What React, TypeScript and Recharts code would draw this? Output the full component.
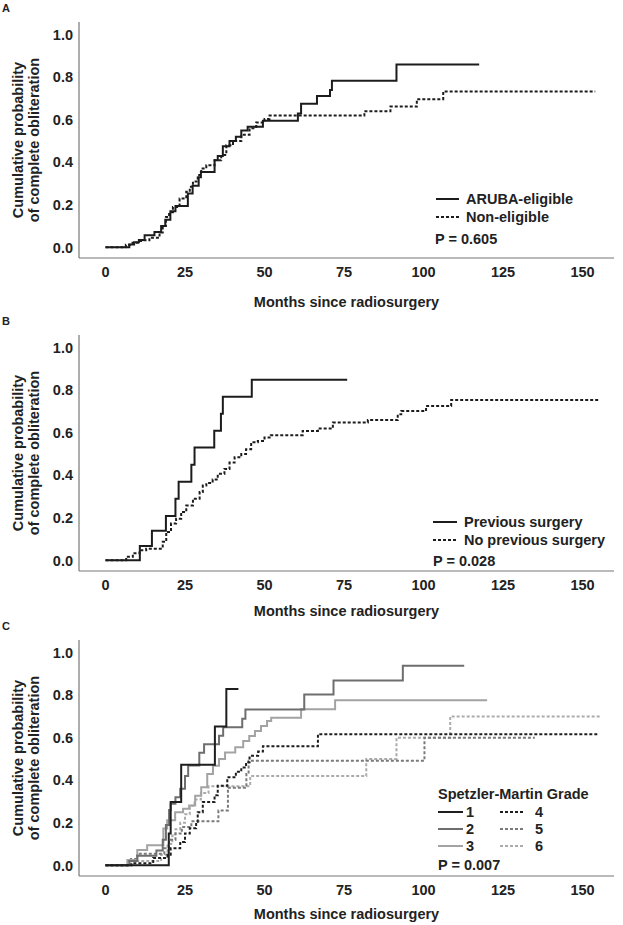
import React from 'react';
import { LineChart, Line, XAxis, YAxis, Legend } from 'recharts';

type Pt = [number, number];

const xTicks = [0, 25, 50, 75, 100, 125, 150];
const yTicks = [0, 0.2, 0.4, 0.6, 0.8, 1.0];

// Panel A
const arubaEligible: Pt[] = [
  [0, 0], [7.5, 0.013], [9, 0.024], [10.5, 0.035], [12.3, 0.057], [15.4, 0.072], [17.5, 0.1],
  [18.8, 0.13], [20.4, 0.17], [22, 0.195], [25.9, 0.253], [27.4, 0.29], [29.3, 0.33], [30, 0.355],
  [34.3, 0.41], [35.3, 0.43], [36.9, 0.476], [39, 0.5], [41, 0.52], [42.7, 0.55], [44.7, 0.567],
  [49.5, 0.596], [60.5, 0.63], [61.5, 0.675], [66.5, 0.712], [70.6, 0.74], [71.2, 0.784],
  [91.5, 0.86], [117.5, 0.86],
];
const nonEligible: Pt[] = [
  [0, 0], [6.4, 0.012], [8.5, 0.022], [10.5, 0.03], [11.7, 0.033], [13.8, 0.045], [17, 0.07],
  [18, 0.1], [19, 0.143], [20, 0.165], [21.2, 0.19], [23.3, 0.23], [25.4, 0.262], [26.5, 0.285],
  [27.5, 0.31], [29, 0.34], [30.1, 0.371], [31.7, 0.386], [34.3, 0.41], [36.4, 0.434], [38, 0.48],
  [40.1, 0.5], [42.7, 0.53], [45.3, 0.56], [47.4, 0.587], [50, 0.604], [51.6, 0.62], [81.4, 0.64],
  [89.6, 0.662], [97.9, 0.697], [106.2, 0.733], [154, 0.733],
];

// Panel B
const previousSurgery: Pt[] = [
  [0, 0], [10.8, 0.067], [14.6, 0.139], [19, 0.209], [22, 0.29], [23, 0.37], [27, 0.45],
  [28, 0.531], [34.2, 0.61], [36.3, 0.69], [36.9, 0.77], [46, 0.849], [76, 0.849],
];
const noPreviousSurgery: Pt[] = [
  [0, 0], [6.5, 0.017], [8.6, 0.033], [10.7, 0.048], [12.8, 0.055], [18, 0.087], [19.1, 0.134],
  [20.6, 0.173], [22.2, 0.196], [23.8, 0.228], [25.4, 0.258], [27.5, 0.29], [29.6, 0.321],
  [30.6, 0.352], [31.7, 0.364], [33.7, 0.38], [35.3, 0.407], [37.4, 0.43], [39, 0.46],
  [40.6, 0.485], [42.7, 0.5], [44.2, 0.523], [45.8, 0.555], [47.9, 0.562], [50, 0.578],
  [52, 0.589], [62, 0.609], [66.8, 0.62], [71.5, 0.648], [82.5, 0.66], [91.9, 0.687],
  [93, 0.702], [100.8, 0.726], [108.7, 0.754], [155.5, 0.754],
];

// Panel C, Spetzler-Martin grades
const grade1: Pt[] = [
  [0, 0], [19.9, 0.15], [20.5, 0.298], [23.8, 0.473], [34.4, 0.653], [38, 0.83], [41.8, 0.83],
];
const grade2: Pt[] = [
  [0, 0], [7.5, 0.02], [10, 0.045], [16, 0.07], [18, 0.12], [19, 0.19], [20, 0.26], [20.5, 0.29],
  [22, 0.32], [23.5, 0.36], [25, 0.42], [26, 0.47], [29.5, 0.53], [31, 0.57], [35.7, 0.61],
  [37, 0.65], [43, 0.69], [44, 0.733], [62.5, 0.804], [71.7, 0.869], [93.5, 0.939], [112.8, 0.939],
];
const grade3: Pt[] = [
  [0, 0], [6.9, 0.025], [10, 0.072], [13.1, 0.095], [18.2, 0.173], [19.4, 0.212], [21.9, 0.25],
  [24.4, 0.266], [26.3, 0.282], [28.2, 0.328], [30.1, 0.368], [32, 0.43], [33.8, 0.469],
  [35.7, 0.5], [37.6, 0.531], [40.8, 0.555], [43.3, 0.585], [45.2, 0.609], [47, 0.632],
  [48.9, 0.656], [50.8, 0.679], [52.1, 0.694], [61.5, 0.734], [72.2, 0.777], [120, 0.777],
];
const grade4: Pt[] = [
  [0, 0], [8.2, 0.01], [15, 0.035], [19.5, 0.05], [20.5, 0.08], [23.5, 0.11], [25, 0.15],
  [26.5, 0.175], [28.5, 0.205], [29, 0.25], [30.6, 0.298], [34.3, 0.33], [35.3, 0.375],
  [38.3, 0.414], [41, 0.44], [42.7, 0.46], [44.2, 0.485], [45.3, 0.515], [48, 0.535],
  [49.5, 0.56], [66.8, 0.617], [155, 0.617],
];
const grade5: Pt[] = [
  [0, 0], [8, 0.03], [10, 0.055], [18.5, 0.08], [20, 0.12], [22, 0.15], [24, 0.18], [27, 0.207],
  [35.5, 0.258], [38.5, 0.365], [44.3, 0.43], [45, 0.492], [100.3, 0.6], [135, 0.6],
];
const grade6: Pt[] = [
  [0, 0], [7, 0.02], [17.5, 0.05], [19.5, 0.1], [21, 0.14], [22, 0.17], [23.5, 0.2], [25, 0.24],
  [26.5, 0.28], [28, 0.31], [30, 0.34], [32.4, 0.372], [45.5, 0.42], [82, 0.5], [91.5, 0.6],
  [108.4, 0.7], [156, 0.7],
];

const FONT = '"Liberation Sans", Arial, Helvetica, sans-serif';
const INK = '#222';
const FS = 14.5;

interface Series {
  name: string;
  pts: Pt[];
  color: string;
  dashed?: boolean;
}

const toRows = (pts: Pt[]) => pts.map(([t, p]) => ({ t, p }));

const Sample = ({ color, dashed, w = 24 }: { color: string; dashed?: boolean; w?: number }) => (
  <svg width={w} height={4} style={{ display: 'block' }}>
    <line x1={0} y1={2} x2={w} y2={2} stroke={color} strokeWidth={2} strokeDasharray={dashed ? '3 2' : undefined} />
  </svg>
);

const Txt = ({ x, y, children }: { x: number; y: number; children: React.ReactNode }) => (
  <div style={{ position: 'absolute', left: x, top: y - 9, lineHeight: '18px', whiteSpace: 'nowrap' }}>{children}</div>
);

const Swatch = ({ x, y, s, w }: { x: number; y: number; s: Series; w?: number }) => (
  <div style={{ position: 'absolute', left: x, top: y - 2 }}>
    <Sample color={s.color} dashed={s.dashed} w={w} />
  </div>
);

const yTitle = () => (
  <g fill={INK} fontFamily={FONT} fontSize={FS} fontWeight="bold">
    <text x={18} y={140} transform="rotate(-90 18 140)" textAnchor="middle" dominantBaseline="central">
      Cumulative probability
    </text>
    <text x={34} y={140} transform="rotate(-90 34 140)" textAnchor="middle" dominantBaseline="central">
      of complete obliteration
    </text>
  </g>
);

interface PanelProps {
  top: number;
  letter: string;
  series: Series[];
  titleOffset: number;
  legend: () => React.ReactNode;
}

const Panel = ({ top, letter, series, titleOffset, legend }: PanelProps) => (
  <div style={{ position: 'absolute', left: 0, top, width: 623, height: 310 }}>
    <LineChart width={623} height={310} margin={{ top: 22, right: 9, bottom: 0, left: 0 }}>
      <XAxis
        type="number"
        dataKey="t"
        domain={[-8.33, 159.9]}
        ticks={xTicks}
        allowDataOverflow
        height={52}
        tickLine={false}
        tickMargin={3}
        axisLine={{ stroke: '#777', strokeWidth: 1.2 }}
        tick={{ fill: INK, fontSize: FS, fontWeight: 'bold', fontFamily: FONT }}
        label={{
          value: 'Months since radiosurgery',
          position: 'insideBottom',
          offset: titleOffset,
          fill: INK,
          fontSize: FS,
          fontWeight: 'bold',
          fontFamily: FONT,
        }}
      />
      <YAxis
        type="number"
        dataKey="p"
        domain={[-0.05, 1.06]}
        ticks={yTicks}
        allowDataOverflow
        width={79}
        tickLine={false}
        tickMargin={0}
        axisLine={{ stroke: '#777', strokeWidth: 1.2 }}
        tickFormatter={(v: number) => v.toFixed(1)}
        tick={{ fill: INK, fontSize: FS, fontWeight: 'bold', fontFamily: FONT }}
        label={{ content: yTitle }}
      />
      {series.map((s) => (
        <Line
          key={s.name}
          name={s.name}
          data={toRows(s.pts)}
          dataKey="p"
          type="stepAfter"
          stroke={s.color}
          strokeWidth={2}
          strokeDasharray={s.dashed ? '3 2' : undefined}
          dot={false}
          activeDot={false}
          isAnimationActive={false}
        />
      ))}
      <Legend
        layout="vertical"
        verticalAlign="middle"
        align="center"
        wrapperStyle={{ left: 0, top: 0, width: 623, height: 310, pointerEvents: 'none' }}
        content={() => (
          <div style={{ position: 'relative', width: 623, height: 310, fontFamily: FONT, fontSize: FS, fontWeight: 'bold', color: INK }}>
            {legend()}
          </div>
        )}
      />
    </LineChart>
    <div style={{ position: 'absolute', left: 2, top: 2, fontFamily: FONT, fontSize: 11, fontWeight: 'bold', color: INK }}>
      {letter}
    </div>
  </div>
);

const seriesA: Series[] = [
  { name: 'ARUBA-eligible', pts: arubaEligible, color: '#1c1c1c' },
  { name: 'Non-eligible', pts: nonEligible, color: '#1c1c1c', dashed: true },
];
const seriesB: Series[] = [
  { name: 'Previous surgery', pts: previousSurgery, color: '#1c1c1c' },
  { name: 'No previous surgery', pts: noPreviousSurgery, color: '#1c1c1c', dashed: true },
];
const seriesC: Series[] = [
  { name: '6', pts: grade6, color: '#ababab', dashed: true },
  { name: '5', pts: grade5, color: '#7a7a7a', dashed: true },
  { name: '3', pts: grade3, color: '#a3a3a3' },
  { name: '2', pts: grade2, color: '#6e6e6e' },
  { name: '4', pts: grade4, color: '#1e1e1e', dashed: true },
  { name: '1', pts: grade1, color: '#1e1e1e' },
];
const byName = (n: string) => seriesC.find((s) => s.name === n) as Series;

const legendA = () => (
  <>
    <Swatch x={436} y={199} s={seriesA[0]} w={23} />
    <Txt x={466} y={199}>{seriesA[0].name}</Txt>
    <Swatch x={436} y={216.7} s={seriesA[1]} w={23} />
    <Txt x={466} y={216.7}>{seriesA[1].name}</Txt>
    <Txt x={435} y={239}>P = 0.605</Txt>
  </>
);

const legendB = () => (
  <>
    <Swatch x={433} y={208.7} s={seriesB[0]} w={24} />
    <Txt x={464} y={208.7}>{seriesB[0].name}</Txt>
    <Swatch x={433} y={227} s={seriesB[1]} w={24} />
    <Txt x={464} y={227}>{seriesB[1].name}</Txt>
    <Txt x={433} y={248}>P = 0.028</Txt>
  </>
);

const rowsC = [193.7, 211, 227.7];
const legendC = () => (
  <>
    <Txt x={438} y={176}>Spetzler-Martin Grade</Txt>
    {['1', '2', '3'].map((n, i) => (
      <React.Fragment key={n}>
        <Swatch x={438} y={rowsC[i]} s={byName(n)} w={25} />
        <Txt x={466} y={rowsC[i]}>{n}</Txt>
      </React.Fragment>
    ))}
    {['4', '5', '6'].map((n, i) => (
      <React.Fragment key={n}>
        <Swatch x={500} y={rowsC[i]} s={byName(n)} w={23} />
        <Txt x={535} y={rowsC[i]}>{n}</Txt>
      </React.Fragment>
    ))}
    <Txt x={438} y={247}>P = 0.007</Txt>
  </>
);

export default function App() {
  return (
    <div style={{ position: 'absolute', left: 0, top: 0, width: 623, height: 925, background: '#fff', overflow: 'hidden' }}>
      <Panel top={0} letter="A" series={seriesA} titleOffset={3} legend={legendA} />
      <Panel top={313} letter="B" series={seriesB} titleOffset={7} legend={legendB} />
      <Panel top={618} letter="C" series={seriesC} titleOffset={9} legend={legendC} />
    </div>
  );
}
